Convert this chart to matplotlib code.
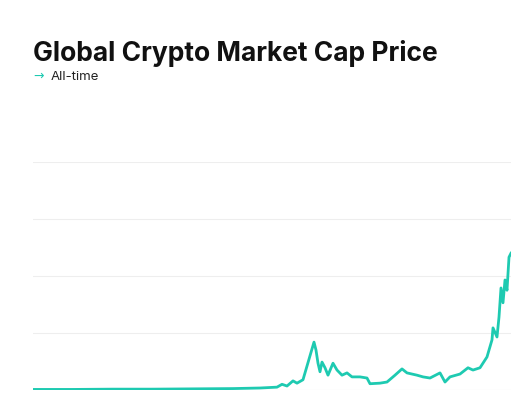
import numpy as np
import matplotlib.pyplot as plt

# time index (approx. weeks) and market cap (trillion USD)
t = [0, 40, 80, 120, 160, 200, 227, 244, 249, 254, 260, 264, 270, 277, 281, 283, 285,
     287, 289, 292, 295, 300, 304, 309, 314, 319, 327, 334, 337, 347, 354, 362, 369,
     374, 384, 390, 397, 407, 412, 417, 427, 435, 440, 447, 454, 459, 460, 464, 466,
     468, 470, 472, 474, 476, 478]
cap = [0.01, 0.01, 0.015, 0.015, 0.02, 0.025, 0.035, 0.05, 0.10, 0.07, 0.16, 0.12,
       0.18, 0.60, 0.84, 0.70, 0.47, 0.32, 0.49, 0.39, 0.26, 0.47, 0.35, 0.26, 0.30,
       0.23, 0.23, 0.21, 0.11, 0.12, 0.14, 0.26, 0.37, 0.30, 0.26, 0.23, 0.21, 0.30,
       0.14, 0.23, 0.28, 0.39, 0.35, 0.39, 0.58, 0.88, 1.09, 0.93, 1.28, 1.79, 1.53,
       1.93, 1.75, 2.33, 2.40]

teal = '#1ecab1'

fig = plt.figure(figsize=(5.11, 4.0), dpi=100)
ax = fig.add_axes([33/511, 10/400, 478/511, 228/400])

ax.plot(t, cap, color=teal, lw=2, solid_joinstyle='round')
ax.set_xlim(0, 478)
ax.set_ylim(0, 4)
ax.set_yticks([1, 2, 3, 4])
ax.grid(axis='y', color='#eeeeee', lw=0.8)
ax.tick_params(left=False, bottom=False, labelleft=False, labelbottom=False)
for s in ax.spines.values():
    s.set_visible(False)
ax.axhline(0, color='#e6e6e6', lw=0.8, zorder=0)

fig.text(33/511, 1 - 61/400, 'Global Crypto Market Cap Price', fontsize=19,
         fontweight='bold', color='#111111', family='Inter')
fig.text(33/511, 1 - 80/400, '→', fontsize=9, color=teal)
fig.text(51/511, 1 - 80/400, 'All-time', fontsize=9.5, color='#222222', family='Inter')

fig.savefig('out.png', dpi=100)
